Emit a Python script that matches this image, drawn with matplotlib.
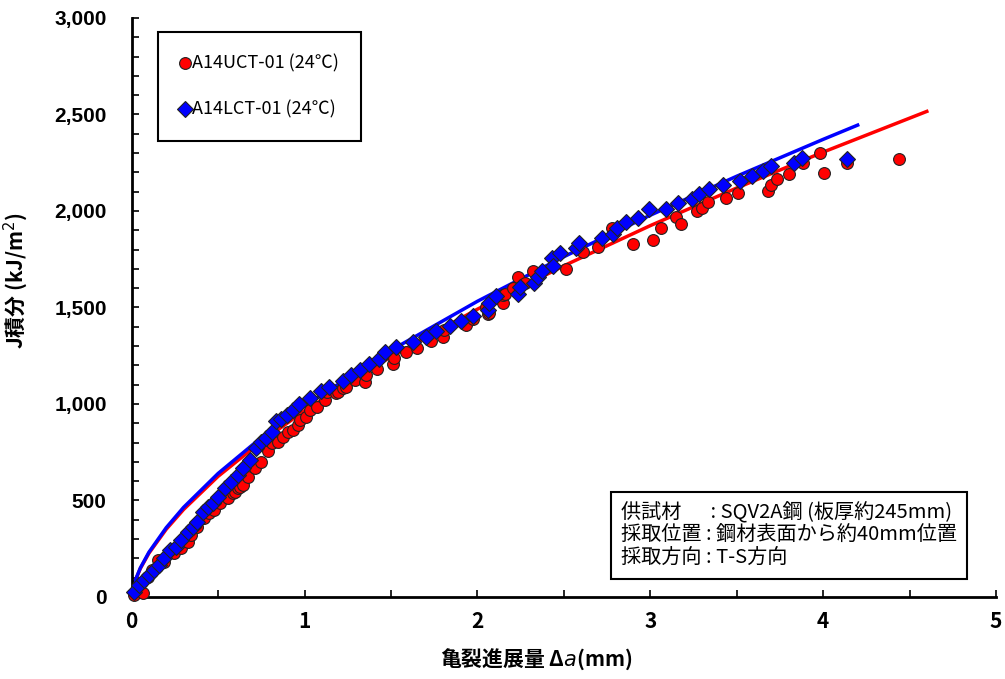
import matplotlib
matplotlib.use('Agg')
import matplotlib.pyplot as plt
from matplotlib.ticker import MultipleLocator, FuncFormatter

plt.rcParams['font.family'] = ['Noto Sans CJK JP', 'DejaVu Sans']

# A14UCT-01 (red circles)
red_da = [0.016, 0.064, 0.093, 0.12, 0.15, 0.19, 0.247, 0.285, 0.324, 0.343, 0.38, 0.42, 0.45,
          0.478, 0.509, 0.557, 0.585, 0.596, 0.613, 0.625, 0.642, 0.673, 0.712, 0.75, 0.79, 0.81,
          0.847, 0.876, 0.905, 0.933, 0.962, 0.972, 1.01, 1.03, 1.07, 1.12, 1.13, 1.185, 1.194,
          1.223, 1.24, 1.28, 1.29, 1.35, 1.358, 1.42, 1.51, 1.52, 1.586, 1.65, 1.734, 1.80, 1.806,
          1.937, 1.975, 2.05, 2.06, 2.07, 2.15, 2.15, 2.16, 2.205, 2.235, 2.274, 2.32, 2.51, 2.61,
          2.695, 2.776, 2.90, 3.017, 3.065, 3.15, 3.18, 3.27, 3.30, 3.335, 3.44, 3.505, 3.68, 3.70,
          3.735, 3.80, 3.885, 3.98, 4.005, 4.136, 4.44]
red_j = [10, 19, 105, 140, 192, 183, 226, 252, 287, 321, 364, 408, 434,
         451, 485, 511, 537, 546, 563, 571, 580, 623, 667, 701, 758, 796,
         805, 831, 857, 865, 891, 917, 934, 969, 986, 1021, 1064, 1055, 1064,
         1081, 1090, 1133, 1124, 1116, 1150, 1180, 1207, 1237, 1271, 1292, 1326, 1345, 1383,
         1409, 1439, 1504, 1466, 1470, 1522, 1565, 1572, 1601, 1660, 1625, 1689, 1698, 1789,
         1815, 1910, 1827, 1850, 1910, 1967, 1931, 2002, 2014, 2048, 2066, 2095, 2105, 2133,
         2164, 2192, 2249, 2302, 2199, 2247, 2268]

# A14LCT-01 (blue diamonds)
blue_da = [0.016, 0.045, 0.073, 0.10, 0.13, 0.16, 0.19, 0.224, 0.256, 0.285, 0.324, 0.353, 0.38,
           0.41, 0.44, 0.47, 0.50, 0.538, 0.577, 0.615, 0.644, 0.683, 0.72, 0.75, 0.78, 0.81,
           0.837, 0.866, 0.899, 0.933, 0.966, 1.03, 1.098, 1.142, 1.223, 1.27, 1.32, 1.373, 1.43,
           1.464, 1.528, 1.628, 1.70, 1.76, 1.84, 1.904, 1.975, 2.06, 2.07, 2.11, 2.235, 2.245,
           2.33, 2.35, 2.375, 2.43, 2.44, 2.48, 2.57, 2.59, 2.72, 2.785, 2.81, 2.86, 2.93, 2.99,
           3.09, 3.16, 3.24, 3.28, 3.34, 3.42, 3.52, 3.59, 3.65, 3.70, 3.83, 3.88, 4.136]
blue_j = [27, 62, 88, 114, 140, 166, 200, 244, 261, 295, 338, 364, 390,
          442, 468, 485, 520, 563, 597, 632, 667, 710, 770, 805, 822, 857,
          912, 921, 943, 969, 998, 1030, 1069, 1090, 1121, 1150, 1176, 1207, 1235,
          1271, 1294, 1323, 1349, 1378, 1404, 1432, 1456, 1487, 1522, 1560, 1570, 1608,
          1625, 1660, 1691, 1758, 1717, 1784, 1807, 1836, 1858, 1879, 1910, 1945, 1965, 2009,
          2010, 2040, 2061, 2088, 2114, 2135, 2157, 2181, 2209, 2235, 2250, 2273, 2268]

# fitted curves
red_fit_da = [0.02, 0.05, 0.1, 0.2, 0.3, 0.5, 0.75, 1.0, 1.5, 2.0, 2.5, 3.0, 3.5, 4.0, 4.6]
red_fit_j = [83, 147, 227, 351, 453, 625, 805, 965, 1245, 1491, 1716, 1924, 2119, 2305, 2516]
blue_fit_da = [0.02, 0.05, 0.1, 0.2, 0.3, 0.5, 0.75, 1.0, 1.5, 2.0, 2.5, 3.0, 3.5, 4.0, 4.2]
blue_fit_j = [84, 150, 232, 359, 464, 640, 826, 990, 1278, 1532, 1763, 1978, 2180, 2371, 2445]

labels = ['A14UCT-01 (24℃)', 'A14LCT-01 (24℃)']
note = '供試材　  : SQV2A鋼 (板厚約245mm)\n採取位置 : 鋼材表面から約40mm位置\n採取方向 : T-S方向'

fig = plt.figure(figsize=(10.05, 6.79), dpi=100)
ax = fig.add_axes([0.131, 0.1208, 0.86, 0.8527])

ax.plot(red_fit_da, red_fit_j, color='#ff0000', lw=2.5, zorder=2)
ax.plot(blue_fit_da, blue_fit_j, color='#0000ff', lw=2.5, zorder=2)
ax.plot(red_da, red_j, 'o', ms=8.5, mfc='#ff0000', mec='#222222', mew=0.8, zorder=3,
        clip_on=False, label=labels[0])
ax.plot(blue_da, blue_j, 'D', ms=8, mfc='#0000ff', mec='#222222', mew=0.8, zorder=4,
        clip_on=False, label=labels[1])

ax.set_xlim(0, 5)
ax.set_ylim(0, 3000)
for s in ['top', 'right']:
    ax.spines[s].set_visible(False)
for s in ['left', 'bottom']:
    ax.spines[s].set_linewidth(2)
ax.xaxis.set_major_locator(MultipleLocator(1))
ax.xaxis.set_minor_locator(MultipleLocator(0.5))
ax.yaxis.set_major_locator(MultipleLocator(500))
ax.yaxis.set_minor_locator(MultipleLocator(100))
ax.yaxis.set_major_formatter(FuncFormatter(lambda v, p: f'{int(v):,}'))
ax.tick_params(axis='both', which='both', direction='in', length=5, width=1.2)
ax.tick_params(axis='y', which='major', pad=18)
ax.tick_params(axis='x', which='major', pad=10)
for t in ax.get_yticklabels():
    t.set_fontfamily('Liberation Sans')
    t.set_fontweight('bold')
    t.set_fontsize(15)
for t in ax.get_xticklabels():
    t.set_fontweight('bold')
    t.set_fontsize(15)

ax.set_xlabel('亀裂進展量 Δ$\\it{a}$(mm)', fontsize=15, fontweight='bold')
ax.xaxis.set_label_coords(0.468, -0.085)
ax.set_ylabel('J積分 (kJ/m$^2$)', fontsize=15, fontweight='bold')
ax.yaxis.set_label_coords(-0.118, 0.547)

leg = ax.legend(loc='upper left', bbox_to_anchor=(0.03, 0.976), fancybox=False,
                edgecolor='black', framealpha=1, handlelength=0.5, handletextpad=0.15,
                labelspacing=1.55, borderpad=1.25, fontsize=13, borderaxespad=0,
                handleheight=0.6)
leg.get_frame().set_linewidth(1.5)

ax.text(0.566, 0.164, note, transform=ax.transAxes, fontsize=14.5, va='top', ha='left',
        linespacing=1.12,
        bbox=dict(boxstyle='square,pad=0.5', facecolor='white', edgecolor='black', lw=1.5))

plt.savefig('out.png', dpi=100)
plt.close()
